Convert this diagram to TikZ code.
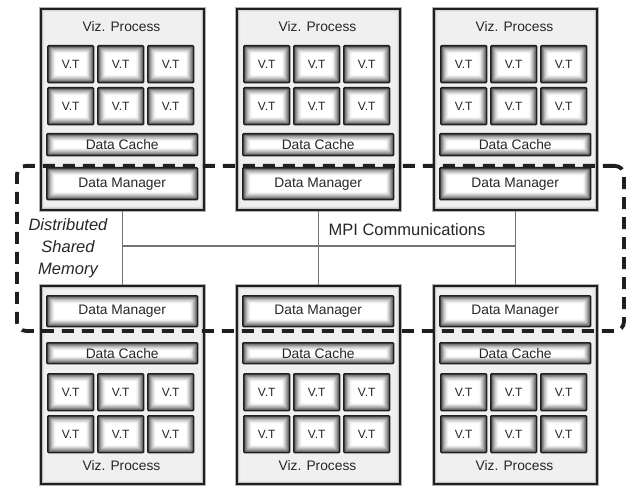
\documentclass[tikz,border=0pt]{standalone}
\usepackage{fontspec}
\setmainfont{Liberation Sans}
\begin{document}
\begin{tikzpicture}[x=1pt,y=-1pt,
  bevel/.style={draw=black!88, line width=1.4pt, fill=white, inner sep=0pt, anchor=north west,
    text=black!85, rounded corners=1pt,
    path picture={
      \foreach \d/\g in {0/75,1/60,2/48,3/38,4/29,5/21,6/14,7/8,8/3,9/0}{
        \fill[black!\g] ([xshift=\d*0.85pt,yshift=-\d*0.85pt]path picture bounding box.north west)
          rectangle ([xshift=-\d*0.85pt,yshift=\d*0.85pt]path picture bounding box.south east);
      }}},
  outerbox/.style={draw=black!88, line width=1.8pt, fill=black!6, inner sep=0pt, anchor=north west,
    minimum width=163pt,
    preaction={draw=black!30, line width=4.5pt},
    path picture={
      \foreach \d/\g in {0/38,1/24,2/15,3/10,4/7,5/6}{
        \fill[black!\g] ([xshift=\d*0.8pt,yshift=-\d*0.8pt]path picture bounding box.north west)
          rectangle ([xshift=-\d*0.8pt,yshift=\d*0.8pt]path picture bounding box.south east);
      }}},
  vt/.style={bevel, minimum width=46pt, minimum height=37pt, font=\fontsize{12}{14}\selectfont},
  wide/.style={bevel, minimum width=151pt, font=\fontsize{13.8}{16}\selectfont},
  vizlabel/.style={font=\fontsize{13.8}{16}\selectfont, text=black!85, inner sep=0pt},
  conn/.style={draw=black!55, line width=1.3pt},
  dsmbox/.style={draw=black!88, line width=3.8pt, dash pattern=on 12pt off 8pt, rounded corners=9pt,
    anchor=north west, inner sep=0pt, minimum width=607pt, minimum height=165pt}
]
\useasboundingbox (0,0) rectangle (626,486);

\foreach \c/\x in {1/40,2/236,3/433}{
  % top process
  \node[outerbox, minimum height=201pt] (top\c) at (\x,8) {};
  \node[vizlabel] (tviz\c) at (\x+81.5,27) {Viz. Process};
  \foreach \r/\yy in {1/45,2/87}{
    \foreach \k/\dx in {1/7,2/57,3/107}{
      \node[vt] (tvt\c\r\k) at (\x+\dx,\yy) {V.T};
    }
  }
  \node[wide, minimum height=22pt] (tdc\c) at (\x+6,133) {Data Cache};
  \node[wide, minimum height=32pt] (tdm\c) at (\x+6,167) {Data Manager};
  % bottom process
  \node[outerbox, minimum height=198pt] (bot\c) at (\x,285) {};
  \node[wide, minimum height=31pt] (bdm\c) at (\x+6,295) {Data Manager};
  \node[wide, minimum height=21pt] (bdc\c) at (\x+6,342) {Data Cache};
  \foreach \r/\yy in {1/373,2/415}{
    \foreach \k/\dx in {1/7,2/57,3/107}{
      \node[vt] (bvt\c\r\k) at (\x+\dx,\yy) {V.T};
    }
  }
  \node[vizlabel] (bviz\c) at (\x+81.5,466) {Viz. Process};
  % connector
  \draw[conn] (top\c.south) -- (bot\c.north);
}

\coordinate (j1) at (top1.south |- 0,246);
\coordinate (j3) at (top3.south |- 0,246);
\draw[conn] (j1) -- (j3);

\node[dsmbox] (dsm) at (15,164) {};

\node[font=\fontsize{16.5}{22}\selectfont\itshape, align=center, text=black!85, inner sep=0pt] (dsmlabel) at (68,248)
  {Distributed\\Shared\\Memory};
\node[font=\fontsize{16.5}{20}\selectfont, text=black!85, inner sep=0pt] (mpi) at (407,230) {MPI Communications};
\end{tikzpicture}
\end{document}
